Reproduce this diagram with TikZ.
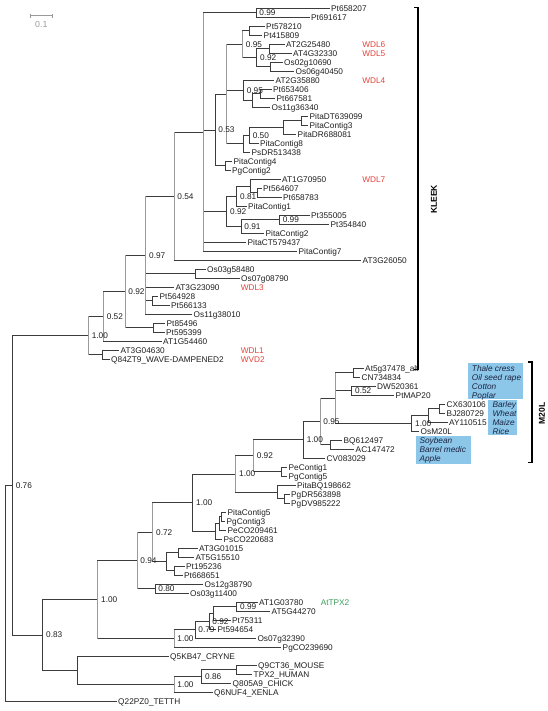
\documentclass[tikz,border=0pt]{standalone}
\usepackage{fontspec}
\setmainfont{Liberation Sans}
\definecolor{dk}{HTML}{3C3C3C}
\definecolor{lg}{HTML}{9A9A9A}
\definecolor{tx}{HTML}{1E1E1E}
\definecolor{wr}{HTML}{E5423B}
\definecolor{wg}{HTML}{3A9E5C}
\definecolor{bx}{HTML}{8CC7EA}
\definecolor{bt}{HTML}{1C2340}
\newcommand\lfnt{\fontsize{6.2}{7}\selectfont}
\begin{document}
\begin{tikzpicture}[x=0.75pt,y=-6.75pt,
  br/.style={draw=dk,line width=0.65pt},
  gv/.style={draw=lg,line width=0.65pt},
  lf/.style={anchor=base west,inner sep=0pt,xshift=1.1pt,yshift=-2.2pt,font=\lfnt,text=tx},
  bs/.style={anchor=base west,inner sep=0pt,xshift=2.4pt,yshift=-2.2pt,font=\lfnt,text=tx},
  sdr/.style={anchor=base west,inner sep=0pt,yshift=-2.2pt,font=\lfnt,text=wr},
  sdg/.style={anchor=base west,inner sep=0pt,yshift=-2.2pt,font=\lfnt,text=wg},
  bxt/.style={anchor=base west,inner sep=0pt,yshift=-2.2pt,font=\lfnt\itshape,text=bt},
  bbox/.style={fill=bx,draw=none},
  brk/.style={draw=black,line width=0.9pt},
  cl/.style={font=\fontsize{6.4}{7}\selectfont\bfseries,text=black,rotate=90,inner sep=0pt}]
\useasboundingbox (0,-0.92222) rectangle (548,78.0778);
% leaves
\foreach \i/\x/\t in {0/331/Pt658207,1/311/Pt691617,2/266/Pt578210,3/263.5/Pt415809,
 4/286/AT2G25480,5/293/AT4G32330,6/284/Os02g10690,7/295.5/Os06g40450,8/275.5/AT2G35880,
 9/273/Pt653406,10/276.5/Pt667581,11/271.5/Os11g36340,12/309.5/PitaDT639099,
 13/309.5/PitaContig3,14/297.5/PitaDR688081,15/260/PitaContig8,16/251.5/PsDR513438,
 17/233.5/PitaContig4,18/232/PgContig2,19/282/AT1G70950,20/263/Pt564607,21/283/Pt658783,
 22/248/PitaContig1,23/311/Pt355005,24/330.5/Pt354840,25/265.5/PitaContig2,
 26/247.5/PitaCT579437,27/298.5/PitaContig7,28/362.5/AT3G26050,29/207/Os03g58480,
 30/241/Os07g08790,31/175.3/AT3G23090,32/159.5/Pt564928,33/171/Pt566133,34/193.5/Os11g38010,
 35/166.5/Pt85496,36/166/Pt595399,37/163/AT1G54460,38/120.5/AT3G04630,
 39/111/Q84ZT9\_WAVE-DAMPENED2,40/365/At5g37478\_alt,41/361.5/CN734834,42/377/DW520361,
 43/395.5/PtMAP20,44/446.5/CX630106,45/446.5/BJ280729,46/449/AY110515,47/420.5/OsM20L,
 48/343.5/BQ612497,49/355.5/AC147472,50/326.5/CV083029,51/288.5/PeContig1,52/288.5/PgContig5,
 53/297/PitaBQ198662,54/291/PgDR563898,55/291/PgDV985222,56/227.5/PitaContig5,
 57/226.5/PgContig3,58/227.5/PeCO209461,59/223.5/PsCO220683,60/199/AT3G01015,
 61/195.5/AT5G15510,62/186/Pt195236,63/184/Pt668651,64/204.5/Os12g38790,65/190/Os03g11400,
 66/259/AT1G03780,67/271.5/AT5G44270,68/232/Pt75311,69/217.5/Pt594654,70/257.3/Os07g32390,
 71/282.5/PgCO239690,72/170/Q5KB47\_CRYNE,73/258/Q9CT36\_MOUSE,74/253.5/TPX2\_HUMAN,
 75/232.5/Q805A9\_CHICK,76/214/Q6NUF4\_XENLA,77/118/Q22PZ0\_TETTH}
 {\coordinate (l\i) at (\x-1.5,\i); \node[lf] (t\i) at (l\i) {\t};}
% internal nodes
\foreach \n/\x/\y in {q0/256/0.5,q2/249.5/2.5,q4/269.3/4.5,q6/270/6.5,n092a/256.7/5.5,
 n095a/242.5/4,q9/260/9.5,n252/252.3/10.25,n095b/243.3/9.125,q12/301.7/12.5,nDT/283.3/13.25,
 n050/249.3/14.125,n243c/243.3/15.0625,n228/226.7/9.53125,q17/225/17.5,n053/215/13.5156,
 q20/257/20.5,n250/250/19.75,n081/236.7/20.875,q23/279.3/23.5,n091/241/24.25,
 n092b/226.7/22.5625,X205/203.3/13.75,n054/174/20.875,q29/195/29.5,q32/152.7/32.5,
 n097/145.7/27.4375,q35/153.3/35.5,n092c/125/31.46875,n052/103.3/34.234,q38/102.7/38.5,
 n100a/88.3/36.367,q40/353.3/40.5,q42/351.7/42.5,q44/439.3/44.5,nO2/428.3/45.25,
 nO/411.7/46.125,nT/335/43.3125,q48/330.7/48.5,n095c/320/45.906,nM3/303.3/47.953,
 q51/281/51.5,n092d/253.3/49.727,q54/284/54.5,nQ1/277.7/53.75,nM2/235.7/51.738,
 q56/221.5/56.5,nP2/219.5/57.25,nP1/215.5/58.125,nM1/192.7/54.932,q60/178.3/60.5,
 q62/174.3/62.5,nAT/166.7/61.5,n072/152.7/58.216,q64/155/64.5,n094/137/61.358,
 q66/236.7/66.5,nI/213.3/67.25,n092e/209/68.125,n079/195/69.0625,nT1/174/70.03,
 nB1/97.7/65.694,q73/236/73.5,n086/201.7/74.25,n100b/174/75.125,nAn/77.7/73.5625,
 n083/42.7/69.628,nA/12.3/52.998,root/5.7/65}
 {\coordinate (\n) at (\x,\y);}
% connectors
\foreach \p/\c in {q0/l0,q0/l1,q2/l2,q2/l3,q4/l4,q4/l5,q6/l6,q6/l7,n092a/q4,n092a/q6,
 n095a/q2,n095a/n092a,q9/l9,q9/l10,n252/q9,n252/l11,n095b/l8,n095b/n252,q12/l12,q12/l13,
 nDT/q12,nDT/l14,n050/nDT,n050/l15,n243c/n050,n243c/l16,n228/n095a,n228/n095b,n228/n243c,
 q17/l17,q17/l18,n053/n228,n053/q17,q20/l20,q20/l21,n250/l19,n250/q20,n081/n250,n081/l22,
 q23/l23,q23/l24,n091/q23,n091/l25,n092b/n081,n092b/n091,X205/q0,X205/n053,X205/n092b,
 X205/l26,X205/l27,n054/X205,n054/l28,q29/l29,q29/l30,q32/l32,q32/l33,n097/n054,n097/q29,
 n097/l31,n097/q32,n097/l34,q35/l35,q35/l36,n092c/n097,n092c/q35,n052/n092c,n052/l37,
 q38/l38,q38/l39,n100a/n052,n100a/q38,q40/l40,q40/l41,q42/l42,q42/l43,q44/l44,q44/l45,
 nO2/q44,nO2/l46,nO/nO2,nO/l47,nT/q40,nT/q42,nT/nO,q48/l48,q48/l49,n095c/nT,n095c/q48,
 nM3/n095c,nM3/l50,q51/l51,q51/l52,n092d/nM3,n092d/q51,q54/l54,q54/l55,nQ1/l53,nQ1/q54,
 nM2/n092d,nM2/nQ1,q56/l56,q56/l57,nP2/q56,nP2/l58,nP1/nP2,nP1/l59,nM1/nM2,nM1/nP1,
 q60/l60,q60/l61,q62/l62,q62/l63,nAT/q60,nAT/q62,n072/nM1,n072/nAT,q64/l64,q64/l65,
 n094/n072,n094/q64,q66/l66,q66/l67,nI/q66,nI/l68,n092e/nI,n092e/l69,n079/n092e,n079/l70,
 nT1/n079,nT1/l71,nB1/n094,nB1/nT1,q73/l73,q73/l74,n086/q73,n086/l75,n100b/n086,n100b/l76,
 nAn/l72,nAn/n100b,n083/nB1,n083/nAn,nA/n100a,nA/n083,root/nA,root/l77}
 {\draw[br] (\p) |- (\c);}
% lighter vertical spans
\foreach \n/\a/\b in {X205/q0/l27,n054/X205/l28,n097/n054/l34,n092c/n097/q35,n052/n092c/l37,
 n100a/n052/q38,n095a/q2/n092a,n228/n095a/n243c,nB1/n094/nT1,nT1/n079/l71,n100b/n086/l76,
 n072/nM1/nAT,n094/n072/q64,nM2/n092d/nQ1,n092d/nM3/q51,n095c/nT/q48,nT/q40/nO}
 {\draw[gv] (\n |- \a) -- (\n |- \b);}
% support values
\foreach \n/\v in {q0/0.99,n095a/0.95,n092a/0.92,n095b/0.95,n053/0.53,n050/0.50,n081/0.81,
 n092b/0.92,q23/0.99,n091/0.91,n054/0.54,n097/0.97,n092c/0.92,n052/0.52,n100a/1.00,nA/0.76,
 q42/0.52,nO/1.00,n095c/0.95,nM3/1.00,n092d/0.92,nM2/1.00,nM1/1.00,n072/0.72,n094/0.94,
 q64/0.80,nB1/1.00,q66/0.99,n092e/0.92,n079/0.79,nT1/1.00,n083/0.83,n086/0.86,n100b/1.00}
 {\node[bs] (b\n) at (\n) {\v};}
% gene names
\node[sdr] (w6) at (362,4) {WDL6};
\node[sdr] (w5) at (362,5) {WDL5};
\node[sdr] (w4) at (362,8) {WDL4};
\node[sdr] (w7) at (362,19) {WDL7};
\node[sdr] (w3) at (240.5,31) {WDL3};
\node[sdr] (w1) at (240.5,38) {WDL1};
\node[sdr] (wv) at (240.5,39) {WVD2};
\node[sdg] (tp) at (320.5,66) {AtTPX2};
% species boxes
\fill[bbox] (468.3,39.4) rectangle (522.7,43.4);
\fill[bbox] (488.3,43.5) rectangle (516.7,47.45);
\fill[bbox] (416,47.5) rectangle (470.5,50.6);
\node[bxt] (s1) at (471.7,40) {Thale cress};
\node[bxt] (s2) at (471.7,41) {Oil seed rape};
\node[bxt] (s3) at (471.7,42) {Cotton};
\node[bxt] (s4) at (471.7,43) {Poplar};
\node[bxt] (s5) at (492.3,44) {Barley};
\node[bxt] (s6) at (492.3,45) {Wheat};
\node[bxt] (s7) at (492.3,46) {Maize};
\node[bxt] (s8) at (492.3,47) {Rice};
\node[bxt] (s9) at (419.3,48) {Soybean};
\node[bxt] (s10) at (419.3,49) {Barrel medic};
\node[bxt] (s11) at (419.3,50) {Apple};
% clade brackets
\coordinate (kT) at (418,-0.09);
\coordinate (kB) at (418,40.11);
\draw[brk] ([xshift=-3pt]kT) -- (kT) -- (kB) -- ([xshift=-3pt]kB);
\node[cl] (kl) at (434,21.24) {KLEEK};
\coordinate (mT) at (532,39.3);
\coordinate (mB) at (532,50.5);
\draw[brk] ([xshift=-3pt]mT) -- (mT) -- (mB) -- ([xshift=-3pt]mB);
\node[cl] (ml) at (542,45.04) {M20L};
% scale bar
\coordinate (sbL) at (30,0.822);
\coordinate (sbR) at (52.7,0.822);
\draw[lg,line width=0.6pt] (sbL) -- (sbR);
\draw[lg,line width=0.6pt] ([yshift=1.5pt]sbL) -- ([yshift=-1.5pt]sbL);
\draw[lg,line width=0.6pt] ([yshift=1.5pt]sbR) -- ([yshift=-1.5pt]sbR);
\node[font=\fontsize{6.6}{7}\selectfont,text=lg,inner sep=0pt] (sbt) at (41.3,1.85) {0.1};
\end{tikzpicture}
\end{document}
